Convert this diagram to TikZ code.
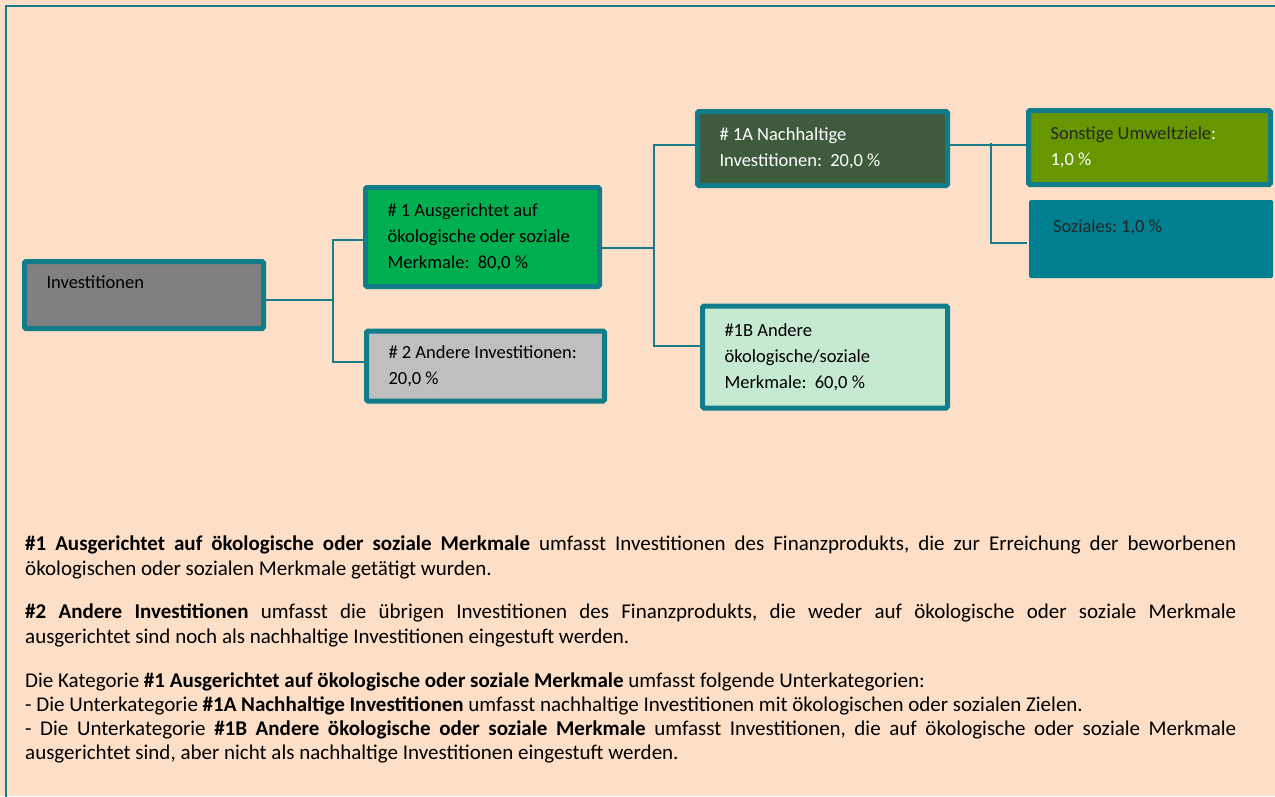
\documentclass[tikz,border=0pt]{standalone}
\usepackage{fontspec}
\setmainfont{Carlito}
\usepackage{xcolor}
\usepackage{tikz}
\usetikzlibrary{positioning,calc}
\definecolor{peach}{HTML}{FDDFC7}
\definecolor{framecol}{HTML}{117C8A}
\definecolor{linecol}{HTML}{1A7A88}
\definecolor{invgray}{HTML}{808080}
\definecolor{ausgreen}{HTML}{00B050}
\definecolor{andgray}{HTML}{BFBFBF}
\definecolor{nachgreen}{HTML}{3E5B3D}
\definecolor{andsgreen}{HTML}{C6E9D1}
\definecolor{umwgreen}{HTML}{669600}
\definecolor{sozteal}{HTML}{007F90}
\hyphenpenalty=10000
\exhyphenpenalty=10000
\frenchspacing
\tikzset{
	box/.style={draw=framecol, line width=5pt, rounded corners=1.5pt, align=flush left,
		inner xsep=22pt, inner ysep=0pt, font=\fontsize{18.5}{26}\selectfont},
	link/.style={draw=linecol, line width=2pt},
	para/.style={text width=1211pt, align=justify, inner sep=0pt, anchor=north west}
}

\begin{document}
\begin{tikzpicture}[x=1pt, y=1pt]
	
	%% -- Background and frame
	\useasboundingbox (0,0) rectangle (1275,-796);
	\fill[peach] (0,0) rectangle (1275,-796);
	\draw[framecol, line width=2pt] (1290,-6) -- (6,-6) -- (6,-810);
	
	%% -- Level 0
	\node[box, fill=invgray, text width=195pt, minimum height=67pt, text depth=26pt]
	(inv) at (144,-295) {Investitionen};
	
	%% -- Level 1
	\node[box, fill=ausgreen, text width=190pt, minimum height=99pt]
	(aus) at (482.5,-237)
	{\# 1 Ausgerichtet auf\\ökologische oder soziale\\Merkmale:~~80,0~\%};
	
	\node[box, fill=andgray, text width=194pt, minimum height=70pt]
	(and) at (485.5,-366)
	{\# 2 Andere Investitionen:\\20,0~\%};
	
	%% -- Level 2
	\node[box, fill=nachgreen, text=white, text width=206pt, minimum height=74pt]
	(nach) at (822.5,-148.5)
	{\# 1A Nachhaltige\\Investitionen:~~20,0~\%};
	
	\node[box, fill=andsgreen, text width=201pt, minimum height=102pt]
	(ands) at (825,-357)
	{\#1B Andere\\ökologische/soziale\\Merkmale:~~60,0~\%};
	
	%% -- Level 3
	\node[box, fill=umwgreen, text=black!85, text width=198pt, minimum height=74pt]
	(umw) at (1149.5,-147.5)
	{Sonstige Umweltziele\textcolor{white}{:}\\\textcolor{white}{1,0~\%}};
	
	\node[box, draw=none, fill=sozteal, text=black!85, inner xsep=24pt,
	text width=196pt, minimum height=78pt, text depth=26pt]
	(soz) at (1151,-239) {Soziales: 1,0~\%};
	
	%% -- Connectors
	\draw[link] ([yshift=-5pt]inv.east) -- ++(67,0) coordinate (j1);
	\draw[link] (j1) |- ([yshift=-3pt]aus.west);
	\draw[link] (j1) |- ([yshift=4pt]and.west);
	
	\draw[link] ([yshift=-11pt]aus.east) -- ++(52,0) coordinate (j2);
	\draw[link] (j2) |- ([yshift=3.5pt]nach.west);
	\draw[link] (j2) |- ([yshift=11pt]ands.west);
	
	\draw[link] ([yshift=3.5pt]nach.east) -- ([yshift=2.5pt]umw.west);
	\path ([yshift=3.5pt]nach.east) ++(40.5,2) coordinate (j3);
	\draw[link] (j3) |- ([yshift=-4pt]soz.west);
	
	%% -- Explanations
	\node[para, font=\fontsize{21}{25}\selectfont] (p1) at (25,-536)
	{\textbf{\#1 Ausgerichtet auf ökologische oder soziale Merkmale} umfasst Investitionen des Finanzprodukts, die zur Erreichung der beworbenen\linebreak ökologischen oder sozialen Merkmale getätigt wurden.};
	
	\node[para, font=\fontsize{21}{25}\selectfont] (p2) at (25,-604)
	{\textbf{\#2 Andere Investitionen} umfasst die übrigen Investitionen des Finanzprodukts, die weder auf ökologische oder soziale Merkmale\linebreak ausgerichtet sind noch als nachhaltige Investitionen eingestuft werden.};
	
	\node[para, font=\fontsize{21}{24}\selectfont] (p3) at (25,-673)
	{Die Kategorie \textbf{\#1 Ausgerichtet auf ökologische oder soziale Merkmale} umfasst folgende Unterkategorien:\newline
		- Die Unterkategorie \textbf{\#1A Nachhaltige Investitionen} umfasst nachhaltige Investitionen mit ökologischen oder sozialen Zielen.\newline
		- Die Unterkategorie \textbf{\#1B Andere ökologische oder soziale Merkmale} umfasst Investitionen, die auf ökologische oder soziale Merkmale\linebreak ausgerichtet sind, aber nicht als nachhaltige Investitionen eingestuft werden.};
	
\end{tikzpicture}
\end{document}
